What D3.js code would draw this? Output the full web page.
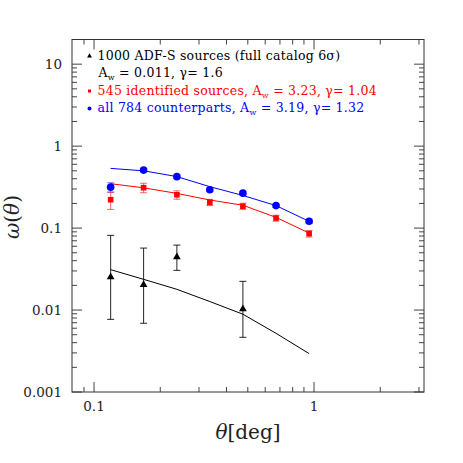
<!DOCTYPE html>
<html lang="en">
<head>
    <meta charset="UTF-8">
    <title>omega(theta)</title>
    <script src="https://d3js.org/d3.v7.min.js"></script>
    <style>
        body { margin: 0; background: #fff; }
        text { font-family: "DejaVu Serif", serif; }
    </style>
</head>
<body>
    <svg id="chart" width="463" height="463"></svg>

    <script>
        // angular bins (deg)
        const theta = [0.119, 0.168, 0.238, 0.336, 0.475, 0.672, 0.95];

        // 784 counterparts (blue)
        const allW = [0.316, 0.51, 0.424, 0.294, 0.267, 0.188, 0.121];
        const allErr = [0.042, 0.025, 0.018, 0.014, 0.012, 0.009, 0.007];
        const allFit = [0.535, 0.50, 0.425, 0.32, 0.25, 0.188, 0.121];

        // 545 identified (red)
        const idW = [0.222, 0.311, 0.255, 0.206, 0.185, 0.1325, 0.0855];
        const idErr = [0.053, 0.041, 0.030, 0.018, 0.016, 0.011, 0.0078];
        const idFit = [0.348, 0.31, 0.265, 0.22, 0.19, 0.135, 0.087];

        // full catalog (black), only 4 bins measured
        const catTheta = [0.119, 0.168, 0.238, 0.475];
        const catW = [0.0253, 0.0204, 0.0443, 0.0103];
        const catLo = [0.0077, 0.0069, 0.0305, 0.00465];
        const catHi = [0.0815, 0.057, 0.062, 0.0224];
        const catFit = [0.0311, 0.0237, 0.0179, 0.0127, 0.0089, 0.0052, 0.00294];

        const yMajor = [10, 1, 0.1, 0.01, 0.001];
        const yMajorLabels = ["10", "1", "0.1", "0.01", "0.001"];
        const xMajor = [0.1, 1];
        const xMajorLabels = ["0.1", "1"];

        const svg = d3.select("#chart");
        const L = 72, R = 424, T = 39.5, B = 392;

        const x = d3.scaleLog().domain([0.0794, 3.162]).range([L, R]);
        const y = d3.scaleLog().domain([0.001, 20]).range([B, T]);

        // minor ticks
        const yMinor = [];
        [0.001, 0.01, 0.1, 1, 10].forEach(d => {
            for (let k = 2; k <= 9; k++) if (d * k <= 20) yMinor.push(d * k);
        });
        const xMinor = [0.09, 0.2, 0.3, 0.4, 0.5, 0.6, 0.7, 0.8, 0.9, 2, 3];

        const ax = svg.append("g").attr("stroke", "#444").attr("stroke-width", 1);

        // y ticks on both sides
        yMinor.forEach(v => {
            ax.append("line").attr("x1", L).attr("x2", L + 5).attr("y1", y(v)).attr("y2", y(v));
            ax.append("line").attr("x1", R).attr("x2", R - 5).attr("y1", y(v)).attr("y2", y(v));
        });
        yMajor.forEach(v => {
            ax.append("line").attr("x1", L).attr("x2", L + 10).attr("y1", y(v)).attr("y2", y(v));
            ax.append("line").attr("x1", R).attr("x2", R - 10).attr("y1", y(v)).attr("y2", y(v));
        });
        xMinor.forEach(v => {
            ax.append("line").attr("y1", B).attr("y2", B - 5).attr("x1", x(v)).attr("x2", x(v));
            ax.append("line").attr("y1", T).attr("y2", T + 5).attr("x1", x(v)).attr("x2", x(v));
        });
        xMajor.forEach(v => {
            ax.append("line").attr("y1", B).attr("y2", B - 10).attr("x1", x(v)).attr("x2", x(v));
            ax.append("line").attr("y1", T).attr("y2", T + 10).attr("x1", x(v)).attr("x2", x(v));
        });

        svg.append("rect")
            .attr("x", L).attr("y", T).attr("width", R - L).attr("height", B - T)
            .attr("fill", "none").attr("stroke", "#333").attr("stroke-width", 1);

        // tick labels
        svg.selectAll(".ylab").data(yMajor).enter().append("text")
            .attr("x", 62).attr("y", d => y(d) + 5)
            .attr("text-anchor", "end").attr("font-size", 13.5).attr("fill", "#222")
            .text((d, i) => yMajorLabels[i]);
        svg.selectAll(".xlab").data(xMajor).enter().append("text")
            .attr("x", d => x(d)).attr("y", 410.5)
            .attr("text-anchor", "middle").attr("font-size", 13.5).attr("fill", "#222")
            .text((d, i) => xMajorLabels[i]);

        // axis titles
        const xt = svg.append("text").attr("x", 248).attr("y", 439)
            .attr("text-anchor", "middle").attr("font-size", 20).attr("fill", "#222");
        xt.append("tspan").attr("font-style", "italic").text("θ");
        xt.append("tspan").text("[deg]");

        const yt = svg.append("text").attr("transform", "translate(19,217) rotate(-90)")
            .attr("text-anchor", "middle").attr("font-size", 20).attr("fill", "#222");
        yt.append("tspan").attr("font-style", "italic").text("ω");
        yt.append("tspan").text("(");
        yt.append("tspan").attr("font-style", "italic").text("θ");
        yt.append("tspan").text(")");

        const line = d3.line().x(d => x(d[0])).y(d => y(d[1]));

        // fit curves
        svg.append("path").attr("d", line(d3.zip(theta, catFit)))
            .attr("fill", "none").attr("stroke", "#000").attr("stroke-width", 1);
        svg.append("path").attr("d", line(d3.zip(theta, idFit)))
            .attr("fill", "none").attr("stroke", "#ff0000").attr("stroke-width", 1);
        svg.append("path").attr("d", line(d3.zip(theta, allFit)))
            .attr("fill", "none").attr("stroke", "#0000ff").attr("stroke-width", 1);

        function errBar(g, xv, lo, hi, color, op) {
            const cx = x(xv);
            g.append("line").attr("x1", cx).attr("x2", cx).attr("y1", y(lo)).attr("y2", y(hi))
                .attr("stroke", color).attr("stroke-opacity", op);
            [lo, hi].forEach(v => g.append("line")
                .attr("x1", cx - 3.5).attr("x2", cx + 3.5).attr("y1", y(v)).attr("y2", y(v))
                .attr("stroke", color).attr("stroke-opacity", op));
        }

        // blue: all counterparts
        const gb = svg.append("g");
        theta.forEach((t, i) => errBar(gb, t, allW[i] - allErr[i], allW[i] + allErr[i], "#0000ff", 0.5));
        gb.selectAll("circle").data(theta).enter().append("circle")
            .attr("cx", d => x(d)).attr("cy", (d, i) => y(allW[i])).attr("r", 3.8)
            .attr("fill", "#0000ff");

        // red: identified
        const gr = svg.append("g");
        theta.forEach((t, i) => errBar(gr, t, idW[i] - idErr[i], idW[i] + idErr[i], "#ff0000", 0.6));
        gr.selectAll("rect").data(theta).enter().append("rect")
            .attr("x", d => x(d) - 2.8).attr("y", (d, i) => y(idW[i]) - 2.8)
            .attr("width", 5.6).attr("height", 5.6).attr("fill", "#ff0000");

        // black: full catalog
        const gk = svg.append("g");
        catTheta.forEach((t, i) => errBar(gk, t, catLo[i], catHi[i], "#000", 0.85));
        const tri = d3.symbol().type(d3.symbolTriangle).size(26);
        gk.selectAll("path").data(catTheta).enter().append("path")
            .attr("d", tri)
            .attr("transform", (d, i) => `translate(${x(d)},${y(catW[i])})`)
            .attr("fill", "#000");

        // legend
        const lg = svg.append("g").attr("font-size", 12.5).attr("letter-spacing", 0.25);
        lg.append("path").attr("d", d3.symbol().type(d3.symbolTriangle).size(10))
            .attr("transform", "translate(89.5,56)").attr("fill", "#000");
        lg.append("text").attr("x", 97.5).attr("y", 59.5).attr("fill", "#000")
            .text("1000 ADF-S sources (full catalog 6σ)");
        const l2 = lg.append("text").attr("x", 98.5).attr("y", 77).attr("fill", "#000");
        l2.append("tspan").text("A");
        l2.append("tspan").attr("font-size", 8).attr("dy", 3).text("w");
        l2.append("tspan").attr("dy", -3).text(" = 0.011, γ= 1.6");

        lg.append("rect").attr("x", 88).attr("y", 89.5).attr("width", 3).attr("height", 3).attr("fill", "#ff0000");
        const l3 = lg.append("text").attr("x", 97.5).attr("y", 94.5).attr("fill", "#ff0000");
        l3.append("tspan").text("545 identified sources, A");
        l3.append("tspan").attr("font-size", 8).attr("dy", 3).text("w");
        l3.append("tspan").attr("dy", -3).text(" = 3.23, γ= 1.04");

        lg.append("circle").attr("cx", 89.5).attr("cy", 108.5).attr("r", 2).attr("fill", "#0000ff");
        const l4 = lg.append("text").attr("x", 97.5).attr("y", 112).attr("fill", "#0000ff");
        l4.append("tspan").text("all 784 counterparts, A");
        l4.append("tspan").attr("font-size", 8).attr("dy", 3).text("w");
        l4.append("tspan").attr("dy", -3).text(" = 3.19, γ= 1.32");
    </script>
</body>
</html>
